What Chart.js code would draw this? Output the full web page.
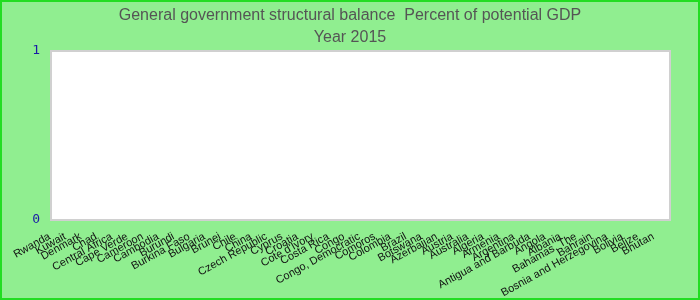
<!DOCTYPE html>
<html>
<head>
<meta charset="utf-8">
<script src="https://cdn.jsdelivr.net/npm/chart.js@4/dist/chart.umd.min.js"></script>
<style>
  html, body { margin: 0; padding: 0; background: #90ee90; }
  #box { width: 700px; height: 300px; box-sizing: border-box; border: 2px solid #22dd22; background: #90ee90; }
</style>
</head>
<body>
<div id="box"><canvas id="myChart" width="696" height="296"></canvas></div>
<script>
// paises na ordem do grafico original
var paises = ['Rwanda', 'Kuwait', 'Denmark', 'Chad', 'Central Africa', 'Cape Verde', 'Cameroon',
  'Cambodia', 'Burundi', 'Burkina Faso', 'Bulgaria', 'Brunei', 'Chile', 'China', 'Czech Republic',
  'Cyprus', 'Croatia', "Cote d'Ivory", 'Costa Rica', 'Congo', 'Congo, Democratic', 'Comoros',
  'Colombia', 'Brazil', 'Botswana', 'Azerbaijan', 'Austria', 'Australia', 'Algeria', 'Armenia',
  'Argentina', 'Antigua and Barbuda', 'Angola', 'Albania', 'Bahamas, The', 'Bahrain',
  'Bosnia and Herzegovina', 'Bolivia', 'Belize', 'Bhutan'];

// nenhum valor aparece no grafico de 2015
var saldo2015 = paises.map(function () { return null; });

var titulo = ['General government structural balance  Percent of potential GDP', 'Year 2015'];

// pinta o fundo branco da area do grafico
var fundoArea = {
  id: 'fundoArea',
  beforeDraw: function (chart) {
    var a = chart.chartArea;
    var c = chart.ctx;
    c.save();
    c.fillStyle = '#ffffff';
    c.fillRect(a.left, a.top, a.right - a.left, a.bottom - a.top);
    c.strokeStyle = '#d0d0d0';
    c.lineWidth = 2;
    c.strokeRect(a.left, a.top, a.right - a.left, a.bottom - a.top);
    c.restore();
  }
};

// empurra os rotulos inclinados um pouco pra esquerda (igual ao original)
function deslocarRotulos(scale) {
  if (scale._deslocado) return;
  scale._deslocado = true;
  var original = scale.drawLabels;
  scale.drawLabels = function (area) {
    var c = this.ctx;
    c.save();
    c.translate(-9, -1);
    original.call(this, area);
    c.restore();
  };
}

var ctx = document.getElementById('myChart');

var Grafico = new Chart(ctx, {
  type: 'bar',
  data: {
    labels: paises,
    datasets: [{
      label: 'Structural balance',
      data: saldo2015,
      backgroundColor: '#4572a7'
    }]
  },
  options: {
    responsive: false,
    animation: false,
    layout: { padding: 0 },
    plugins: {
      legend: { display: false },
      tooltip: { enabled: false },
      title: {
        display: true,
        text: titulo,
        color: '#555555',
        font: { family: 'Liberation Sans', size: 16, weight: 'normal', lineHeight: 1.375 },
        padding: { top: 3, bottom: 2 }
      }
    },
    scales: {
      x: {
        grid: { display: false },
        border: { display: false },
        ticks: {
          autoSkip: false,
          maxRotation: 29,
          minRotation: 29,
          color: '#111111',
          padding: 3,
          font: { family: 'Liberation Sans', size: 11 }
        },
        afterFit: function (scale) {
          scale.height = 78;
          deslocarRotulos(scale);
        }
      },
      y: {
        min: 0,
        max: 1,
        grid: { display: false },
        border: { display: false },
        ticks: {
          stepSize: 1,
          color: '#1a1aa6',
          padding: 3,
          font: { family: 'DejaVu Sans Mono', size: 13 }
        },
        afterFit: function (scale) { scale.width = 49; }
      },
      // eixo vazio so para deixar a margem da direita
      margemDir: {
        position: 'right',
        display: true,
        grid: { display: false },
        border: { display: false },
        ticks: { display: false },
        afterFit: function (scale) { scale.width = 28; }
      }
    }
  },
  plugins: [fundoArea]
});
</script>
</body>
</html>
